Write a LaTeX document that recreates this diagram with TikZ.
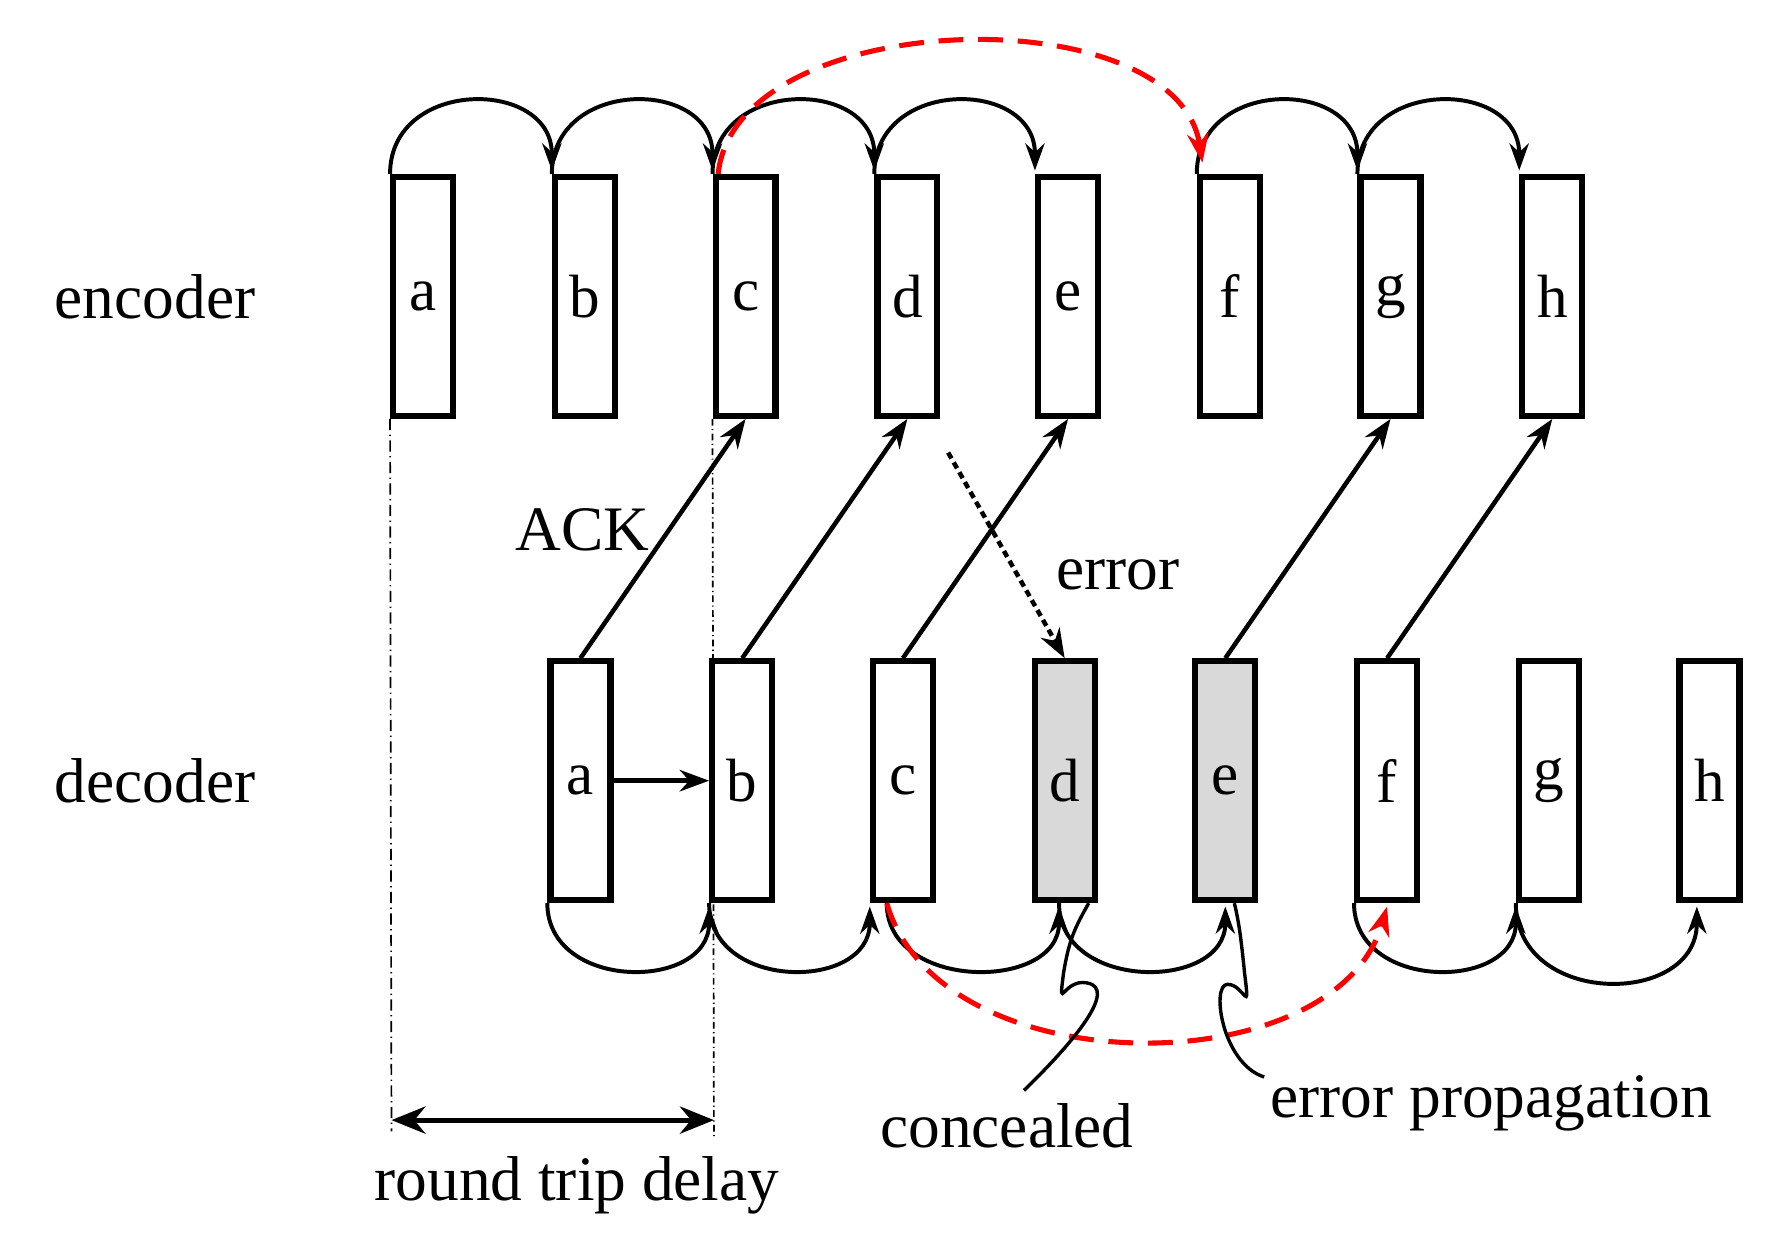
\documentclass[tikz,border=0pt]{standalone}
\usepackage{fontspec}
\setmainfont{Liberation Serif}
\usetikzlibrary{arrows.meta}
\begin{document}
\begin{tikzpicture}[x=1pt,y=-1pt,
 box/.style={draw,line width=5.5pt,minimum width=53pt,minimum height=211pt,inner sep=0,font=\fontsize{54}{54}\selectfont},
 lbl/.style={font=\fontsize{56}{56}\selectfont},
 arc/.style={line width=3.5pt,-{Stealth[length=24pt,width=17pt]}},
 ack/.style={line width=4pt,-{Stealth[length=26pt,width=19pt]}},
 red/.style={draw=red,line width=4.5pt,dash pattern=on 22pt off 13pt,-{Stealth[length=26pt,width=19pt]}}]
\useasboundingbox (0,0) rectangle (1560,1092);
\foreach \n/\x in {a/374,b/517,c/659,d/802,e/944,f/1087,g/1229,h/1372}
  \node[box] (E\n) at (\x,262) {\n};
\foreach \n/\x/\f in {a/513/white,b/656/white,c/798/white,d/941/gray!30,e/1083/gray!30,f/1226/white,g/1369/white,h/1511/white}
  \node[box,fill=\f] (D\n) at (\x,690) {\n};
\node[lbl] (enc) at (137,262) {encoder};
\node[lbl] (dec) at (137,690) {decoder};
\node[lbl] (ack) at (515,468) {ACK};
\node[lbl] (err) at (988,508) {error};
\node[lbl] (con) at (890,995) {concealed};
\node[lbl] (prop) at (1318,975) {error propagation};
\node[lbl] (rtd) at (510,1048) {round trip delay};
% encoder arcs
\foreach \p/\q in {a/b,b/c,c/d,d/e,f/g,g/h}
  \draw[arc] (E\p.north west) .. controls ([yshift=85pt]E\p.north west) and ([yshift=85pt]E\q.north west) .. ([yshift=3pt]E\q.north west);
% decoder arcs
\draw[arc] (Da.south west) .. controls ([yshift=-78pt]Da.south west) and ([yshift=-78pt]Db.south west) .. ([yshift=-3pt]Db.south west);
\draw[arc] (Db.south west) .. controls ([yshift=-78pt]Db.south west) and ([yshift=-78pt]Dc.south west) .. ([yshift=-3pt]Dc.south west);
\draw[arc] ([xshift=15pt]Dc.south west) .. controls ([xshift=15pt,yshift=-78pt]Dc.south west) and ([xshift=-5pt,yshift=-78pt]Dd.south) .. ([xshift=-5pt,yshift=-3pt]Dd.south);
\draw[arc] ([xshift=-5pt]Dd.south) .. controls ([xshift=-5pt,yshift=-78pt]Dd.south) and ([yshift=-78pt]De.south) .. ([yshift=-3pt]De.south);
\draw[arc] (Df.south west) .. controls ([yshift=-78pt]Df.south west) and ([yshift=-78pt]Dg.south west) .. ([yshift=-3pt]Dg.south west);
\draw[arc] (Dg.south west) .. controls ([yshift=-92pt]Dg.south west) and ([xshift=18pt,yshift=-92pt]Dh.south west) .. ([xshift=18pt,yshift=-3pt]Dh.south west);
% ACK
\draw[ack] (Da.north) -- (Ec.south);
\draw[ack] (Db.north) -- (Ed.south);
\draw[ack] (Dc.north) -- (Ee.south);
\draw[ack] (De.north) -- (Eg.south);
\draw[ack] (Df.north) -- (Eh.south);
\coordinate (es) at (838,400);
\draw[ack,dash pattern=on 6pt off 4pt] (es) -- (Dd.north);
\draw[ack] (Da.east) -- (Db.west);
% red
\draw[red] ([xshift=5pt]Ec.north west) .. controls (650,5) and (1040,-5) .. ([xshift=5pt,yshift=10pt]Ef.north west);
\draw[red] ([xshift=15pt]Dc.south west) .. controls (830,960) and (1180,960) .. ([yshift=-3pt]Df.south);
% vertical guides
\coordinate (v1) at (346,1000);
\coordinate (v2) at (631,1005);
\draw[line width=1.5pt,dash pattern=on 10pt off 4pt on 1pt off 4pt] (Ea.south west) -- (v1);
\draw[line width=1.5pt,dash pattern=on 6pt off 3pt on 1pt off 3pt] (Ec.south west) -- (v2);
\draw[line width=4.5pt,{Stealth[length=30pt,width=24pt]}-{Stealth[length=30pt,width=24pt]}] (346,990) -- (631,990);
% squiggles
\draw[line width=3pt] (con.north) ++(15,-8) .. controls (940,930) and (985,880) .. (965,870) .. controls (940,860) and (935,900) .. (940,860) .. controls (945,830) and (950,820) .. ([xshift=-8pt]Dd.south east);
\draw[line width=3pt] (prop.north west) ++(-2,5) .. controls (1080,940) and (1070,870) .. (1085,870) .. controls (1100,870) and (1105,900) .. (1100,860) .. controls (1097,830) and (1095,815) .. ([xshift=8pt]De.south);
\end{tikzpicture}
\end{document}
